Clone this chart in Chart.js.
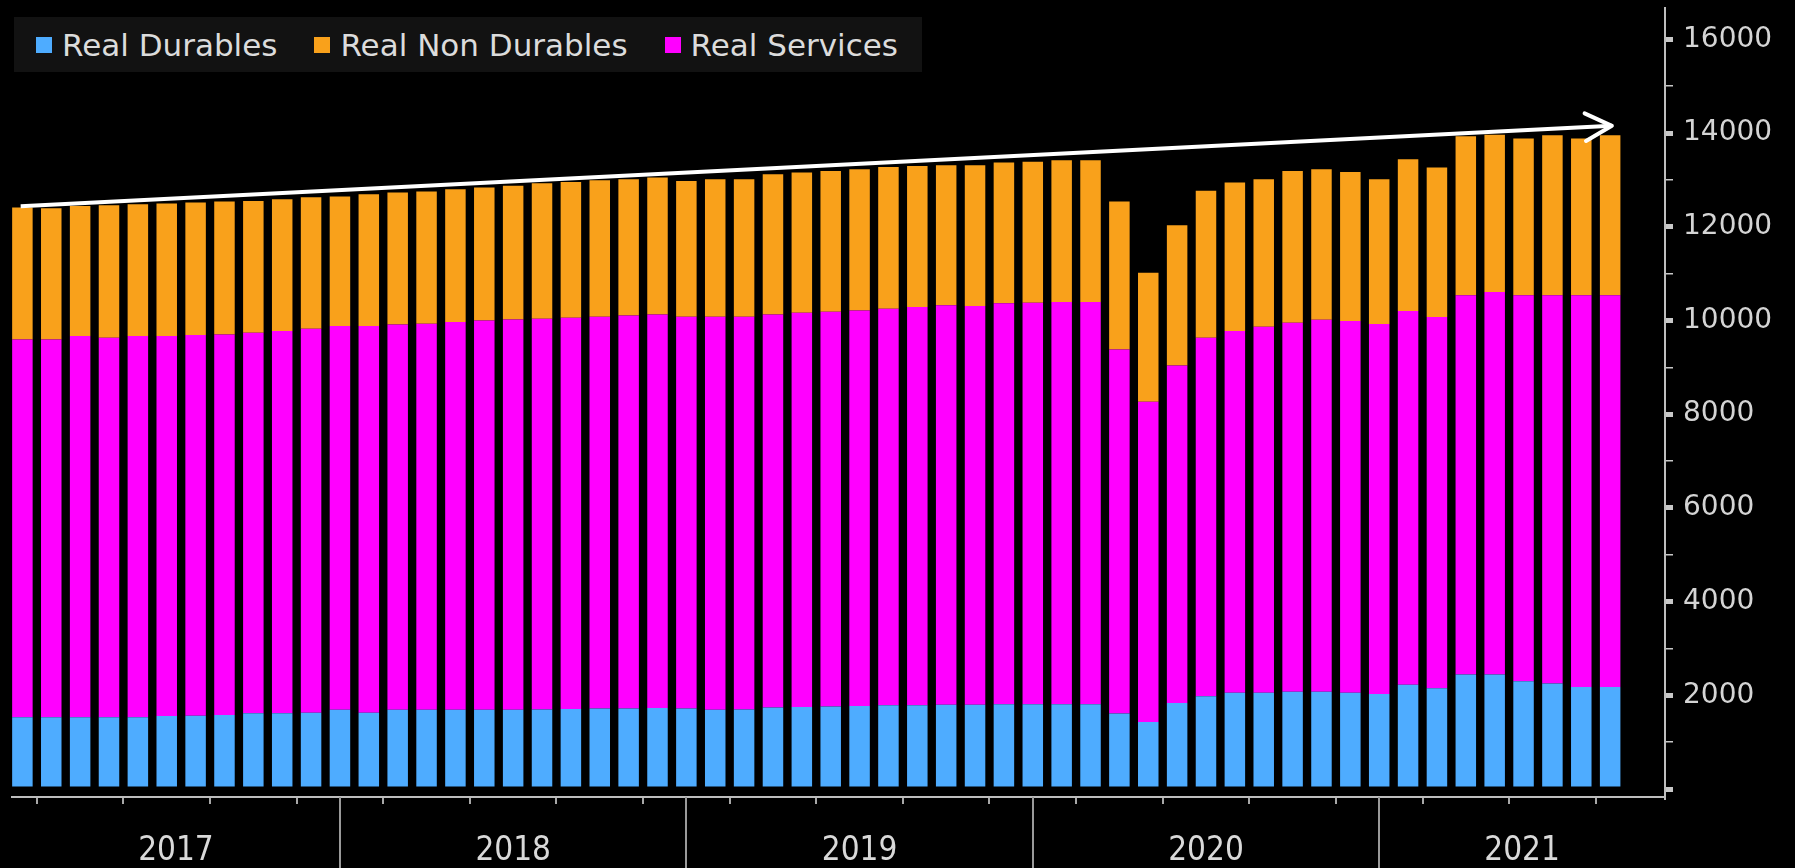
<!DOCTYPE html>
<html>
<head>
<meta charset="utf-8">
<title>Real consumption</title>
<script src="https://cdn.jsdelivr.net/npm/chart.js@4.4.1/dist/chart.umd.min.js"></script>
<style>
  html, body { margin: 0; padding: 0; background: #000; }
  #wrap { position: relative; width: 1795px; height: 868px; }
  #legend {
    position: absolute; left: 14px; top: 17px; width: 908px; height: 55px;
    box-sizing: border-box; padding-left: 22px;
    background: #121212; display: flex; align-items: center;
    font: 31px "DejaVu Sans", sans-serif; color: #dcdcdc; white-space: nowrap;
  }
  .item { display: flex; align-items: center; margin-right: 37px; }
  .swatch { width: 16px; height: 16px; margin-right: 10px; }
</style>
</head>
<body>
<div id="wrap">
  <canvas id="chart" width="1795" height="868"></canvas>
  <div id="legend"></div>
</div>
<script>
// monthly bars, Jan 2017 .. Aug 2021
const months = [
  'Jan 2017','Feb 2017','Mar 2017','Apr 2017','May 2017','Jun 2017','Jul 2017','Aug 2017','Sep 2017','Oct 2017','Nov 2017','Dec 2017',
  'Jan 2018','Feb 2018','Mar 2018','Apr 2018','May 2018','Jun 2018','Jul 2018','Aug 2018','Sep 2018','Oct 2018','Nov 2018','Dec 2018',
  'Jan 2019','Feb 2019','Mar 2019','Apr 2019','May 2019','Jun 2019','Jul 2019','Aug 2019','Sep 2019','Oct 2019','Nov 2019','Dec 2019',
  'Jan 2020','Feb 2020','Mar 2020','Apr 2020','May 2020','Jun 2020','Jul 2020','Aug 2020','Sep 2020','Oct 2020','Nov 2020','Dec 2020',
  'Jan 2021','Feb 2021','Mar 2021','Apr 2021','May 2021','Jun 2021','Jul 2021','Aug 2021'
];

const durables = [
  1530, 1530, 1530, 1530, 1530, 1560, 1565, 1580, 1615, 1615, 1630, 1690,
  1630, 1690, 1690, 1690, 1690, 1690, 1700, 1710, 1720, 1720, 1730, 1720,
  1690, 1700, 1740, 1750, 1760, 1770, 1790, 1790, 1800, 1800, 1810, 1810,
  1810, 1810, 1614, 1430, 1835, 1981, 2055, 2055, 2079, 2079, 2055, 2030,
  2226, 2152, 2446, 2446, 2300, 2250, 2177, 2177
];
const services = [
  8066, 8066, 8137, 8102, 8137, 8107, 8124, 8123, 8123, 8159, 8194, 8191,
  8251, 8227, 8241, 8276, 8312, 8333, 8338, 8349, 8361, 8389, 8400, 8361,
  8391, 8381, 8390, 8416, 8427, 8446, 8462, 8497, 8523, 8508, 8556, 8570,
  8584, 8584, 7768, 6834, 7205, 7651, 7719, 7812, 7873, 7937, 7933, 7894,
  7975, 7925, 8094, 8165, 8237, 8290, 8360, 8360
];
const nonDurables = [
  2815, 2800, 2779, 2828, 2814, 2829, 2828, 2836, 2815, 2814, 2807, 2765,
  2814, 2814, 2821, 2836, 2836, 2851, 2892, 2899, 2913, 2907, 2921, 2899,
  2935, 2935, 2992, 2992, 3006, 3013, 3027, 3013, 2992, 3007, 3006, 3006,
  3028, 3028, 3157, 2757, 2992, 3135, 3171, 3149, 3241, 3213, 3184, 3092,
  3242, 3188, 3395, 3355, 3348, 3416, 3348, 3419
];

const seriesNames = ['Real Durables', 'Real Non Durables', 'Real Services'];
const seriesColors = ['#4eacff', '#f9a11b', '#ff00ff'];

const years = ['2017', '2018', '2019', '2020', '2021'];
const yearEnds = [11, 23, 35, 47];           // December bars sit on the year break
const quarterTicks = [2, 5, 8, 11, 14, 17, 20, 23, 26, 29, 32, 35, 38, 41, 44, 47, 50, 53, 56];
const yTicks = [0, 1000, 2000, 3000, 4000, 5000, 6000, 7000, 8000, 9000, 10000, 11000, 12000, 13000, 14000, 15000, 16000];

// hand drawn trend arrow (start / end in data units)
const arrowStart = { x: -0.06, y: 12440 };
const arrowEnd = { x: 55.06, y: 14155 };

const toPoints = arr => arr.map((v, i) => ({ x: i, y: v }));

// legend (html, same order as the original)
const legendEl = document.getElementById('legend');
seriesNames.forEach((name, i) => {
  const item = document.createElement('div');
  item.className = 'item';
  const sw = document.createElement('span');
  sw.className = 'swatch';
  sw.style.background = seriesColors[i];
  const txt = document.createElement('span');
  txt.textContent = name;
  item.appendChild(sw);
  item.appendChild(txt);
  legendEl.appendChild(item);
});

const yearAxis = {
  id: 'yearAxis',
  afterDraw(chart) {
    const x = chart.scales.x;
    const ctx = chart.ctx;
    ctx.save();
    ctx.strokeStyle = '#9a9a9a';
    ctx.lineWidth = 2;
    yearEnds.forEach(v => {
      const px = Math.round(x.getPixelForValue(v));
      ctx.beginPath();
      ctx.moveTo(px, x.top);
      ctx.lineTo(px, chart.height);
      ctx.stroke();
    });
    const edges = [x.min, ...yearEnds, x.max];
    ctx.fillStyle = '#d9d9d9';
    ctx.font = '33px "DejaVu Sans Condensed", "DejaVu Sans", sans-serif';
    ctx.textAlign = 'center';
    ctx.textBaseline = 'middle';
    years.forEach((label, i) => {
      const mid = (x.getPixelForValue(edges[i]) + x.getPixelForValue(edges[i + 1])) / 2;
      ctx.fillText(label, mid, x.top + 54);
    });
    ctx.restore();
  }
};

const arrowHead = {
  id: 'arrowHead',
  afterDatasetsDraw(chart) {
    const meta = chart.getDatasetMeta(3);
    const p0 = meta.data[0], p1 = meta.data[1];
    const ang = Math.atan2(p1.y - p0.y, p1.x - p0.x);
    const len = 30;
    const ctx = chart.ctx;
    ctx.save();
    ctx.strokeStyle = '#ffffff';
    ctx.lineWidth = 4;
    ctx.lineCap = 'round';
    ctx.lineJoin = 'round';
    ctx.beginPath();
    ctx.moveTo(p1.x - len * Math.cos(ang - 0.48), p1.y - len * Math.sin(ang - 0.48));
    ctx.lineTo(p1.x, p1.y);
    ctx.lineTo(p1.x - len * Math.cos(ang + 0.48), p1.y - len * Math.sin(ang + 0.48));
    ctx.stroke();
    ctx.restore();
  }
};

const ctx = document.getElementById('chart').getContext('2d');
new Chart(ctx, {
  type: 'bar',
  data: {
    labels: months,
    datasets: [
      { label: seriesNames[0], data: toPoints(durables), backgroundColor: seriesColors[0], stack: 'pce' },
      { label: seriesNames[2], data: toPoints(services), backgroundColor: seriesColors[2], stack: 'pce' },
      { label: seriesNames[1], data: toPoints(nonDurables), backgroundColor: seriesColors[1], stack: 'pce' },
      {
        type: 'line', label: 'trend', data: [arrowStart, arrowEnd], stack: 'arrow', order: -1,
        borderColor: '#ffffff', borderWidth: 4, pointRadius: 0, fill: false, tension: 0
      }
    ]
  },
  options: {
    responsive: false,
    animation: false,
    events: [],
    layout: { padding: { left: 12, top: 8, right: 0, bottom: 0 } },
    datasets: { bar: { categoryPercentage: 1, barPercentage: 0.71 } },
    plugins: { legend: { display: false }, tooltip: { enabled: false }, title: { display: false } },
    scales: {
      x: {
        type: 'linear',
        min: -0.36,
        max: 56.9,
        offset: false,
        grid: { drawOnChartArea: false, drawTicks: true, tickLength: 7, color: '#a8a8a8', lineWidth: 2 },
        border: { display: true, color: '#bdbdbd', width: 2 },
        ticks: { display: false },
        afterBuildTicks: s => { s.ticks = quarterTicks.map(v => ({ value: v })); },
        afterFit: s => { s.height = 71; s.paddingLeft = 0; s.paddingRight = 0; }
      },
      y: {
        position: 'right',
        stacked: true,
        min: -170,
        max: 16670,
        grid: {
          drawOnChartArea: false, drawTicks: true, tickLength: 8, color: '#c8c8c8',
          lineWidth: c => (c.tick && c.tick.value % 2000 === 0) ? 5 : 1.5
        },
        border: { display: true, color: '#bdbdbd', width: 2 },
        ticks: {
          padding: 10,
          color: '#d4d4d4',
          font: { family: 'DejaVu Sans', size: 28 },
          callback: v => (v > 0 && v % 2000 === 0) ? String(v) : ''
        },
        afterBuildTicks: s => { s.ticks = yTicks.map(v => ({ value: v })); },
        afterFit: s => { s.width = 130; s.paddingTop = 0; s.paddingBottom = 0; }
      }
    }
  },
  plugins: [yearAxis, arrowHead]
});
</script>
</body>
</html>
